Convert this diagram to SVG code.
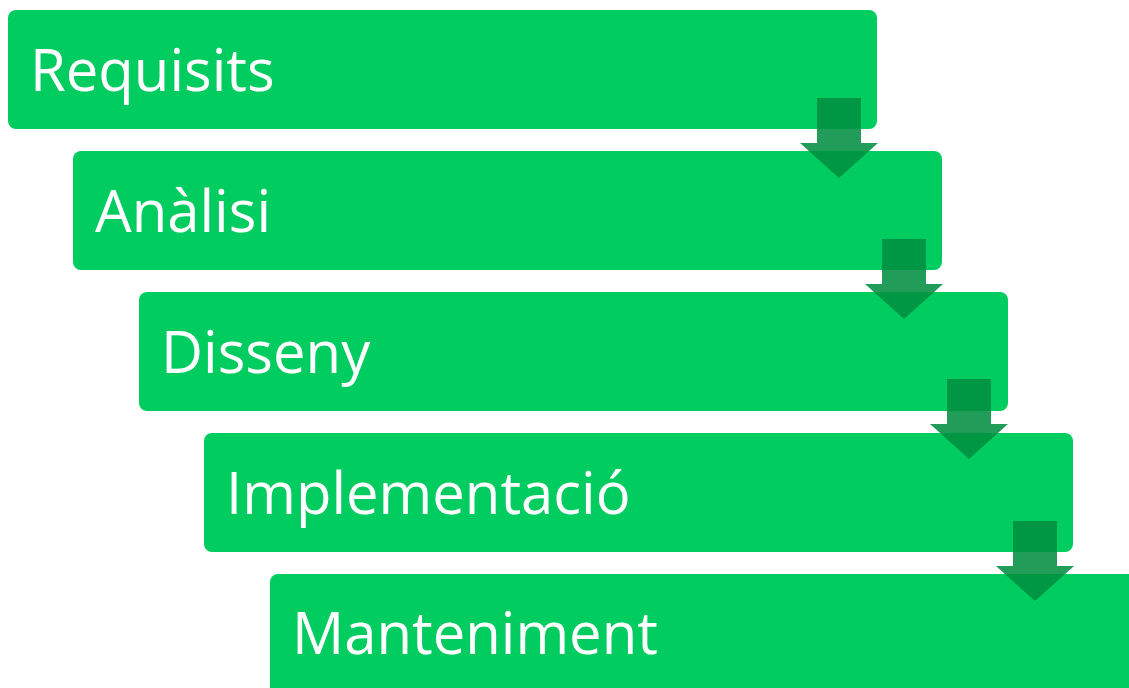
<svg xmlns="http://www.w3.org/2000/svg" width="1129" height="688" viewBox="0 0 1129 688">
<style>
.box{fill:#00CC60}
.lbl{fill:#FFFFFF;font-family:"Open Sans","Liberation Sans",sans-serif;font-size:58px}
.arr{fill:#008E40;fill-opacity:0.87}
</style>
<defs>
<path id="downArrow" d="M18,0 H62 V45 H79 L40,80 L1,45 H18 Z"/>
</defs>
<rect width="1129" height="688" fill="#FFFFFF"/>
<g id="node-requisits"><rect class="box" x="8" y="10" width="869" height="119" rx="8"/><text class="lbl" x="30" y="91">Requisits</text></g>
<g id="node-analisi"><rect class="box" x="73" y="151" width="869" height="119" rx="8"/><text class="lbl" x="95" y="232">Anàlisi</text></g>
<g id="node-disseny"><rect class="box" x="139" y="292" width="869" height="119" rx="8"/><text class="lbl" x="161" y="373">Disseny</text></g>
<g id="node-implementacio"><rect class="box" x="204" y="433" width="869" height="119" rx="8"/><text class="lbl" x="226" y="514">Implementació</text></g>
<g id="node-manteniment"><rect class="box" x="270" y="574" width="880" height="130" rx="8"/><text class="lbl" x="292" y="654">Manteniment</text></g>
<g id="connectors">
<use href="#downArrow" class="arr" x="799" y="98"/>
<use href="#downArrow" class="arr" x="864" y="239"/>
<use href="#downArrow" class="arr" x="929" y="379"/>
<use href="#downArrow" class="arr" x="995" y="521"/>
</g>
</svg>
